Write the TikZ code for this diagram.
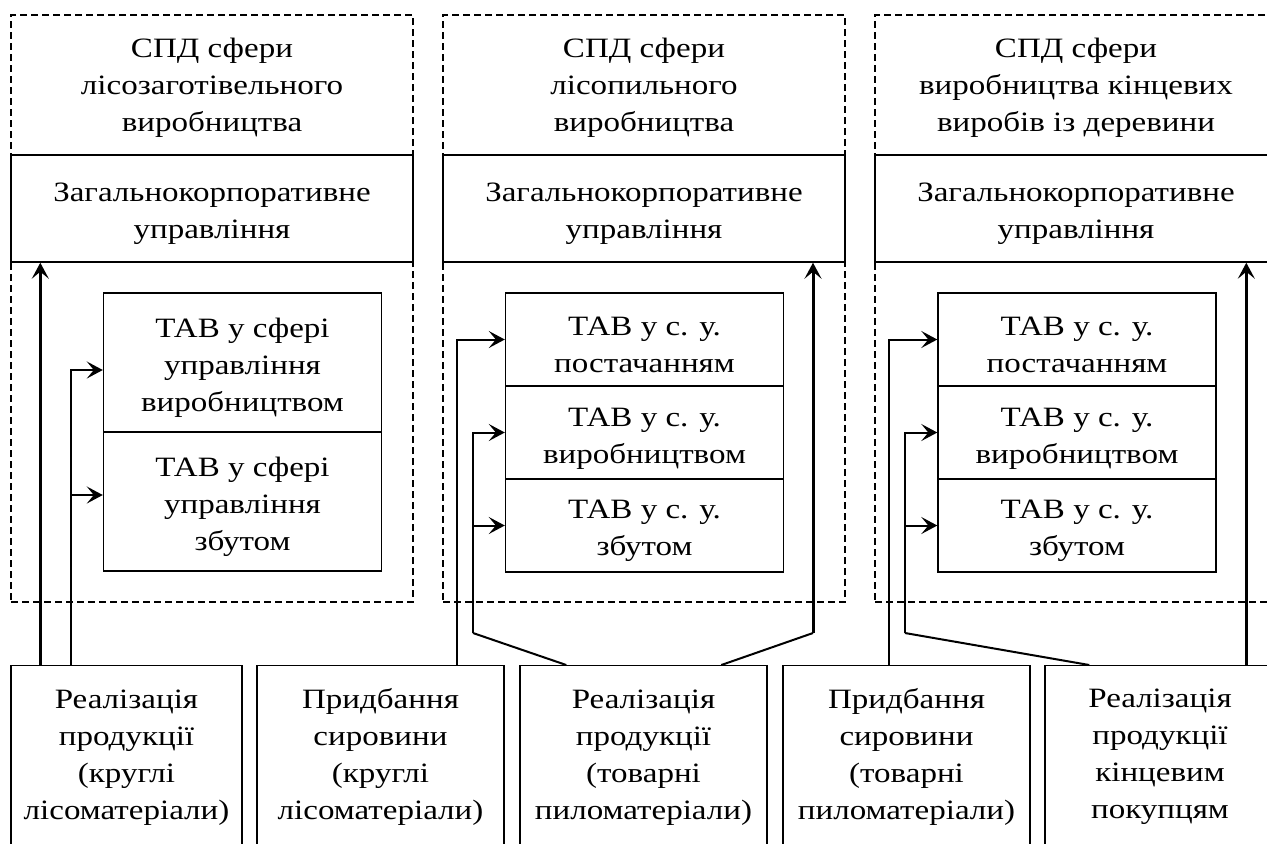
\documentclass[tikz,border=0pt]{standalone}
\usepackage{fontspec}
\setmainfont[FakeStretch=1.18]{Liberation Serif}
\usetikzlibrary{arrows.meta,positioning}
\newcommand{\lowtop}{\rule{0pt}{15pt}}

\begin{document}
\begin{tikzpicture}[
    x=0.5pt, y=-0.5pt,
    every node/.style={font=\fontsize{14}{18.5}\selectfont, align=center, inner sep=0pt},
    grpbox/.style={draw, dash pattern=on 3.3pt off 2.2pt, line width=0.6pt, minimum width=201pt, minimum height=293.5pt},
    corpbox/.style={draw, fill=white, line width=0.7pt, minimum width=201pt, minimum height=53.5pt},
    tabbox/.style={draw, fill=white, line width=0.7pt, minimum width=139pt},
    srcbox/.style={draw, line width=0.7pt, minimum height=91.5pt, anchor=north},
    link/.style={line width=1pt},
    flow/.style={-{Stealth[length=8pt,width=8.5pt,inset=3.5pt]}, line width=1pt},
    mainflow/.style={flow, line width=1.5pt}
]
\useasboundingbox (0,0) rectangle (1267,843);
\clip (0,0) rectangle (1267,843);

% three spheres
\node[grpbox] (grp1) at (212,308.5) {};
\node[grpbox] (grp2) at (644,308.5) {};
\node[grpbox] (grp3) at (1076,308.5) {};
\node (spd1) at (212,88) {СПД сфери\\лісозаготівельного\\виробництва};
\node (spd2) at (644,88) {СПД сфери\\лісопильного\\виробництва};
\node (spd3) at (1076,88) {СПД сфери\\виробництва кінцевих\\виробів із деревини};
\node[corpbox] (corp1) at (212,208.5) {\lowtop Загальнокорпоративне\\управління};
\node[corpbox] (corp2) at (644,208.5) {\lowtop Загальнокорпоративне\\управління};
\node[corpbox] (corp3) at (1076,208.5) {\lowtop Загальнокорпоративне\\управління};

% TAB units
\node[tabbox, minimum height=69.5pt] (tab1a) at (242.5,362.5) {\lowtop ТАВ у сфері\\управління\\виробництвом};
\node[tabbox, minimum height=69.5pt] (tab1b) at (242.5,501.5) {\lowtop ТАВ у сфері\\управління\\збутом};
\node[tabbox, minimum height=46.5pt] (tab2a) at (644.5,339.5) {\lowtop ТАВ у с. у.\\постачанням};
\node[tabbox, minimum height=46.5pt] (tab2b) at (644.5,432.5) {\lowtop ТАВ у с. у.\\виробництвом};
\node[tabbox, minimum height=46.5pt] (tab2c) at (644.5,525.5) {\lowtop ТАВ у с. у.\\збутом};
\node[tabbox, minimum height=46.5pt] (tab3a) at (1077,339.5) {\lowtop ТАВ у с. у.\\постачанням};
\node[tabbox, minimum height=46.5pt] (tab3b) at (1077,432.5) {\lowtop ТАВ у с. у.\\виробництвом};
\node[tabbox, minimum height=46.5pt] (tab3c) at (1077,525.5) {\lowtop ТАВ у с. у.\\збутом};

% market operations
\node[srcbox, minimum width=115.5pt] (real1) at (126.5,665) {Реалізація\\продукції\\(круглі\\лісоматеріали)};
\node[srcbox, minimum width=123.5pt] (buy1) at (380.5,665) {Придбання\\сировини\\(круглі\\лісоматеріали)};
\node[srcbox, minimum width=123.5pt] (real2) at (643.5,665) {Реалізація\\продукції\\(товарні\\пиломатеріали)};
\node[srcbox, minimum width=123.5pt] (buy2) at (906.5,665) {Придбання\\сировини\\(товарні\\пиломатеріали)};
\node[srcbox, minimum width=115pt] (real3) at (1160,665) {Реалізація\\продукції\\кінцевим\\покупцям};

\coordinate (kink2) at (473,633);
\coordinate (kink3) at (813,633);
\coordinate (kink4) at (905,633);

\draw[mainflow] ([xshift=15pt]real1.north west) -- ([xshift=15pt]real1.north west |- corp1.south);
\draw[flow] ([xshift=30.5pt]real1.north west) |- ([yshift=-3.75pt]tab1a.west);
\draw[flow] ([xshift=30.5pt]real1.north west) |- ([yshift=3.25pt]tab1b.west);

\draw[flow] ([xshift=100.5pt]buy1.north west) |- (tab2a.west);
\draw[link] ([xshift=23.5pt]real2.north west) -- (kink2);
\draw[flow] (kink2) |- (tab2b.west);
\draw[flow] (kink2) |- (tab2c.west);
\draw[link] ([xshift=101pt]real2.north west) -- (kink3);
\draw[mainflow] (kink3) -- (kink3 |- corp2.south);

\draw[flow] ([xshift=53.5pt]buy2.north west) |- (tab3a.west);
\draw[link] ([xshift=22.5pt]real3.north west) -- (kink4);
\draw[flow] (kink4) |- (tab3b.west);
\draw[flow] (kink4) |- (tab3c.west);
\draw[mainflow] ([xshift=101pt]real3.north west) -- ([xshift=101pt]real3.north west |- corp3.south);
\end{tikzpicture}
\end{document}
